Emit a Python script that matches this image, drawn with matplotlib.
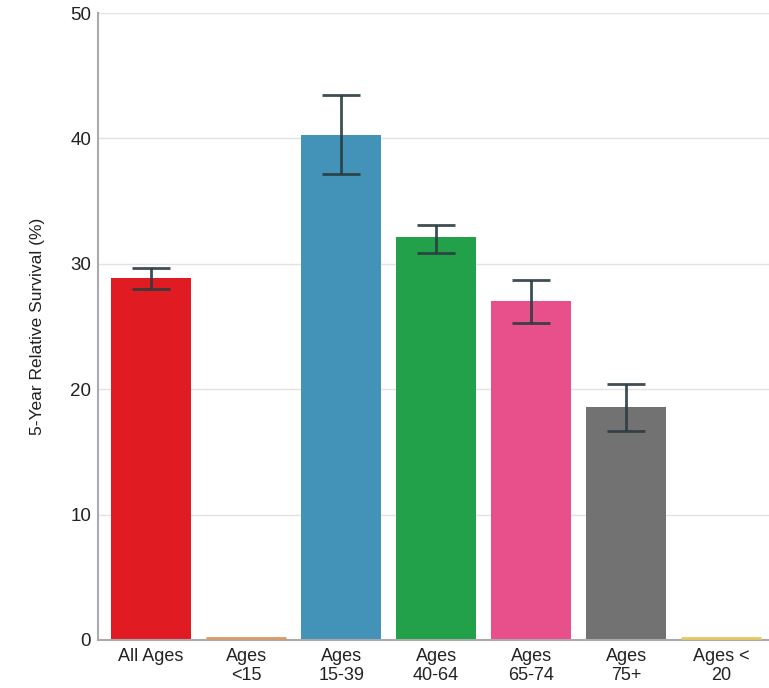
import matplotlib
matplotlib.use("Agg")
import matplotlib.pyplot as plt
import numpy as np

plt.rcParams['font.family'] = ['Liberation Sans', 'DejaVu Sans']

categories = ["All Ages", "Ages\n<15", "Ages\n15-39", "Ages\n40-64", "Ages\n65-74", "Ages\n75+", "Ages <\n20"]
values = [28.9, 0.0, 40.3, 32.1, 27.0, 18.6, 0.0]
lower = [28.0, None, 37.2, 30.9, 25.3, 16.7, None]
upper = [29.7, None, 43.5, 33.1, 28.7, 20.4, None]
colors = ["#e01b22", "#d99a6c", "#4393b9", "#22a04a", "#e8508b", "#727272", "#e8c860"]

fig = plt.figure(figsize=(7.69, 6.88), dpi=100)
ax = fig.add_axes([98/769, 48/688, 671/769, 627/688])

x = np.arange(len(categories))
ax.bar(x, values, width=0.84, color=colors, zorder=2)
# thin lines for zero-valued bars
for xi, v, c in zip(x, values, colors):
    if v == 0:
        ax.plot([xi - 0.42, xi + 0.42], [0.12, 0.12], color=c, lw=2, zorder=5,
                solid_capstyle='butt', clip_on=False)

for xi, v, lo, hi in zip(x, values, lower, upper):
    if lo is None:
        continue
    ax.errorbar(xi, v, yerr=[[v - lo], [hi - v]], fmt='none', ecolor='#2a3c40',
                elinewidth=2, capsize=14, capthick=2, zorder=4, alpha=0.9)

ax.set_xlim(-0.56, 6.505)
ax.set_ylim(0, 50)
ax.set_yticks([0, 10, 20, 30, 40, 50])
ax.set_xticks(x)
ax.set_xticklabels(categories, fontsize=13, color='#222222', linespacing=1.1)
ax.tick_params(axis='x', length=0, pad=6)
ax.tick_params(axis='y', labelsize=13.5, length=0, labelcolor='#222222', pad=5)
ax.set_ylabel("5-Year Relative Survival (%)", fontsize=12.5, color='#222222', labelpad=18)
ax.grid(axis='y', color='#e3e3e3', lw=1, zorder=0)
ax.set_axisbelow(True)
for s in ['top', 'right']:
    ax.spines[s].set_visible(False)
ax.spines['left'].set_color('#aaaaaa')
ax.spines['left'].set_linewidth(1.5)
ax.spines['bottom'].set_color('#aaaaaa')
ax.spines['bottom'].set_linewidth(1.5)

fig.savefig("out.png", dpi=100)
